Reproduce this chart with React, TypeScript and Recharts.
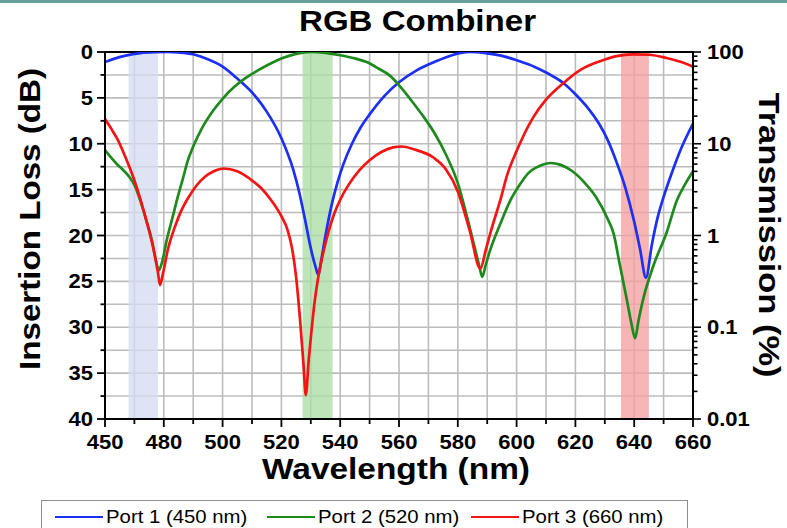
import React from "react";
import { LineChart, Line, XAxis, YAxis, CartesianGrid, ReferenceArea } from "recharts";

// Insertion loss (dB), [wavelength, loss]
const port1Rows = [
  [460, 1.1], [463, 0.75], [467, 0.4], [472, 0.12], [477, 0.02], [481, 0], [485, 0.05], [490, 0.25],
  [495, 0.8], [500, 1.6], [505, 2.9], [510, 4.4], [515, 6.5], [520, 9.4], [524, 12.8], [526, 15.2],
  [528, 18.2], [530, 21.4], [531.6, 23.4], [532.6, 24.3], [533.6, 22.6], [535, 20], [537, 16.8],
  [539, 14.3], [541, 12.3], [544, 10], [547, 8.2], [550, 6.8], [555, 4.8], [560, 3.3], [566, 2.0],
  [572, 1.1], [578, 0.35], [584, 0], [590, 0.15], [596, 0.5], [600, 0.9], [606, 1.6], [611, 2.4],
  [616, 3.4], [620, 4.6], [624, 6], [628, 7.8], [631, 9.6], [634, 12], [637, 14.8], [640, 18.5],
  [642, 21.5], [644, 24.6], [646, 21], [648, 18], [650, 15.8], [653, 13], [656, 10.5], [660, 7.8],
];

const port2Rows = [
  [460, 10.7], [464, 12.2], [466, 12.8], [468, 13.5], [470, 14.5], [472, 16.2], [474, 18.3], [476, 20.6],
  [477.5, 23], [478.3, 23.8], [479.5, 22.8], [481, 20.5], [483, 18], [485, 15.5], [486.5, 13.8], [488, 12],
  [490, 10.3], [493, 8.3], [497, 6.3], [500, 5.1], [504, 3.8], [508, 2.8], [512, 2.0], [516, 1.3],
  [520, 0.7], [525, 0.2], [530, 0], [535, 0.1], [540, 0.35], [545, 0.7], [549, 1.1], [553, 1.8],
  [557, 2.6], [560.5, 3.8], [564, 5.2], [568, 6.9], [572, 8.8], [576, 11.2], [580, 14.3], [583, 17.8],
  [585.5, 21], [587.3, 23.3], [588.3, 24.5], [589.5, 23.2], [591, 21.6], [594.5, 18.7], [598, 16.1],
  [601, 14.5], [604, 13.2], [608, 12.4], [611.5, 12.1], [615, 12.3], [619, 13], [623, 14.2], [627, 15.8],
  [631, 18.2], [633, 19.8], [635, 23], [637.5, 27], [639, 29.5], [640.3, 31.2], [641.5, 29.2], [643, 27],
  [646.4, 23.4], [651, 19.7], [654.6, 16.1], [657, 14.6], [660, 13],
];

const port3Rows = [
  [460, 7.3], [462, 8.3], [464.4, 9.6], [467, 11.5], [469.9, 13.9], [472, 16], [474.6, 19], [476.5, 21.5],
  [478, 24], [478.7, 25.4], [479.8, 24], [481.4, 21.5], [483.5, 19.3], [485.8, 17.4], [488.5, 15.8],
  [491, 14.6], [494, 13.6], [497, 13], [500.4, 12.7], [505, 13], [509.6, 13.9], [513, 14.8], [516.4, 16.1],
  [520, 17.9], [522, 19.3], [523.5, 21.2], [525, 24.5], [526.3, 29], [527.5, 34], [528.3, 37.4],
  [529.3, 33.5], [530.2, 30.5], [531.2, 27.5], [532.4, 24.8], [534, 22.2], [536, 19.6], [538, 17.6],
  [540, 16.1], [543, 14.4], [546.5, 12.9], [550, 11.8], [554, 10.9], [558, 10.4], [561, 10.3],
  [565, 10.6], [571.7, 11.5], [576, 12.8], [580, 15.2], [584, 19.4], [587.7, 23.6], [589.5, 21.6],
  [591.1, 19.7], [594.5, 16.1], [596.8, 13.4], [600, 10.8], [605.7, 7.1], [610, 5.2], [615.9, 3.4],
  [622, 1.9], [628.4, 1.0], [634, 0.45], [639.6, 0.25], [645, 0.3], [651, 0.65], [656, 1.1], [660, 1.6],
];

// highlighted passbands, [from, to] in wavelength
const bandRanges = [[468, 478], [527.2, 537.4], [635.5, 645]];
const bandColors = ["#d3def2", "#acdca5", "#f5a0a0"];

const wavelengthTicks = [460, 470, 480, 490, 500, 510, 520, 530, 540, 550, 560, 570, 580, 590, 600, 610, 620, 630, 640, 650, 660];
const wavelengthLabels: Record<number, string> = {
  460: "450", 480: "480", 500: "500", 520: "520", 540: "540", 560: "560",
  580: "580", 600: "600", 620: "620", 640: "640", 660: "660",
};
const lossTicks = [0, 2.5, 5, 7.5, 10, 12.5, 15, 17.5, 20, 22.5, 25, 27.5, 30, 32.5, 35, 37.5, 40];
const transmissionTicks = [
  0.01, 0.02, 0.03, 0.04, 0.05, 0.06, 0.07, 0.08, 0.09,
  0.1, 0.2, 0.3, 0.4, 0.5, 0.6, 0.7, 0.8, 0.9,
  1, 2, 3, 4, 5, 6, 7, 8, 9,
  10, 20, 30, 40, 50, 60, 70, 80, 90, 100,
];

const series = [
  { name: "Port 1 (450 nm)", rows: port1Rows, color: "#1c2ff2" },
  { name: "Port 2 (520 nm)", rows: port2Rows, color: "#1e8a1e" },
  { name: "Port 3 (660 nm)", rows: port3Rows, color: "#f51414" },
];

const FONT = "'Liberation Sans', Arial, Helvetica, sans-serif";
const STRETCH = 1.13;

const toPoints = (rows: number[][]) => rows.map(([nm, loss]) => ({ nm, loss }));

function tickText(x: number, y: number, anchor: string, label: string) {
  return (
    <text
      transform={`translate(${x},${y}) scale(${STRETCH},1)`}
      textAnchor={anchor}
      fontSize={19.5}
      fontWeight="bold"
      fontFamily={FONT}
      fill="#000"
    >
      {label}
    </text>
  );
}

function LossTick(props: any) {
  const { x, y, payload } = props;
  const v = payload.value as number;
  const major = v % 5 === 0;
  return (
    <g>
      <line x1={x} x2={x - (major ? 8 : 4.5)} y1={y} y2={y} stroke="#000" strokeWidth={1.8} />
      {major && tickText(x - 12, y + 7, "end", String(v))}
    </g>
  );
}

function TransmissionTick(props: any) {
  const { x, y, payload } = props;
  const v = payload.value as number;
  const lg = Math.log10(v);
  const major = Math.abs(lg - Math.round(lg)) < 1e-6;
  return (
    <g>
      <line x1={x} x2={x + (major ? 8 : 4.5)} y1={y} y2={y} stroke="#000" strokeWidth={1.6} />
      {major && tickText(x + 14, y + 7, "start", String(v))}
    </g>
  );
}

function WavelengthTick(props: any) {
  const { x, y, payload } = props;
  const v = payload.value as number;
  const label = wavelengthLabels[v];
  return (
    <g>
      <line x1={x} x2={x} y1={y} y2={y + (label ? 8 : 5)} stroke="#000" strokeWidth={1.8} />
      {label && tickText(x, y + 30, "middle", label)}
    </g>
  );
}

function Titles() {
  const common = { fontFamily: FONT, fontWeight: "bold" as const, fontSize: 29, fill: "#000", lengthAdjust: "spacingAndGlyphs" };
  return (
    <svg width={787} height={528} style={{ position: "absolute", left: 0, top: 0, pointerEvents: "none" }}>
      <text x={417.5} y={31} textAnchor="middle" textLength={237} {...common}>RGB Combiner</text>
      <text x={396} y={479} textAnchor="middle" textLength={268} {...common}>Wavelength (nm)</text>
      <text transform="translate(40,219) rotate(-90)" textAnchor="middle" textLength={302} {...common}>
        Insertion Loss (dB)
      </text>
      <text transform="translate(759,235) rotate(90)" textAnchor="middle" textLength={285} {...common}>
        Transmission (%)
      </text>
    </svg>
  );
}

function LegendBox() {
  const lefts = [13, 225, 429];
  return (
    <div
      style={{
        position: "absolute", left: 41, top: 500, width: 647, height: 34,
        border: "1px solid #8e8e8e", background: "#fff", boxSizing: "border-box",
      }}
    >
      {series.map((s, i) => (
        <div key={s.name} style={{ position: "absolute", left: lefts[i], top: 6, display: "flex", alignItems: "center", height: 20 }}>
          <div style={{ width: 48, height: 2.6, background: s.color }} />
          <span
            style={{
              marginLeft: 3, fontFamily: FONT, fontSize: 18, color: "#000", whiteSpace: "nowrap",
              display: "inline-block", transform: `scaleX(${STRETCH})`, transformOrigin: "left center",
            }}
          >
            {s.name}
          </span>
        </div>
      ))}
    </div>
  );
}

export default function App() {
  return (
    <div style={{ position: "fixed", left: 0, top: 0, width: 787, height: 528, background: "#fff", overflow: "hidden" }}>
      <div style={{ position: "absolute", left: 0, top: 0, width: 787, height: 3, background: "#6a9e9b" }} />
      <LineChart width={787} height={528} margin={{ top: 52, right: 34, bottom: 69, left: 45 }}>
        {bandRanges.map(([from, to], i) => (
          <ReferenceArea
            key={i}
            x1={from}
            x2={to}
            y1={0}
            y2={40}
            yAxisId="left"
            fill={bandColors[i]}
            fillOpacity={0.78}
            stroke="none"
          />
        ))}
        <CartesianGrid yAxisId="left" stroke="#bcbcbc" strokeWidth={1.6} />
        <XAxis
          dataKey="nm"
          type="number"
          domain={[460, 660]}
          ticks={wavelengthTicks}
          interval={0}
          allowDataOverflow
          height={40}
          tickSize={0}
          tickMargin={0}
          tickLine={false}
          tick={<WavelengthTick />}
          axisLine={{ stroke: "#000", strokeWidth: 2 }}
        />
        <YAxis
          yAxisId="left"
          type="number"
          domain={[0, 40]}
          reversed
          ticks={lossTicks}
          interval={0}
          allowDataOverflow
          width={60}
          tickSize={0}
          tickMargin={0}
          tickLine={false}
          tick={<LossTick />}
          axisLine={{ stroke: "#000", strokeWidth: 2 }}
        />
        <YAxis
          yAxisId="right"
          orientation="right"
          type="number"
          scale="log"
          domain={[0.01, 100]}
          ticks={transmissionTicks}
          interval={0}
          allowDataOverflow
          width={60}
          tickSize={0}
          tickMargin={0}
          tickLine={false}
          tick={<TransmissionTick />}
          axisLine={{ stroke: "#000", strokeWidth: 2 }}
        />
        <ReferenceArea x1={460} x2={660} y1={0} y2={40} yAxisId="left" fill="none" stroke="#000" strokeWidth={2} />
        {series.map((s) => (
          <Line
            key={s.name}
            data={toPoints(s.rows)}
            dataKey="loss"
            yAxisId="left"
            type="monotone"
            stroke={s.color}
            strokeWidth={2.7}
            dot={false}
            activeDot={false}
            isAnimationActive={false}
          />
        ))}
      </LineChart>
      <Titles />
      <LegendBox />
    </div>
  );
}
